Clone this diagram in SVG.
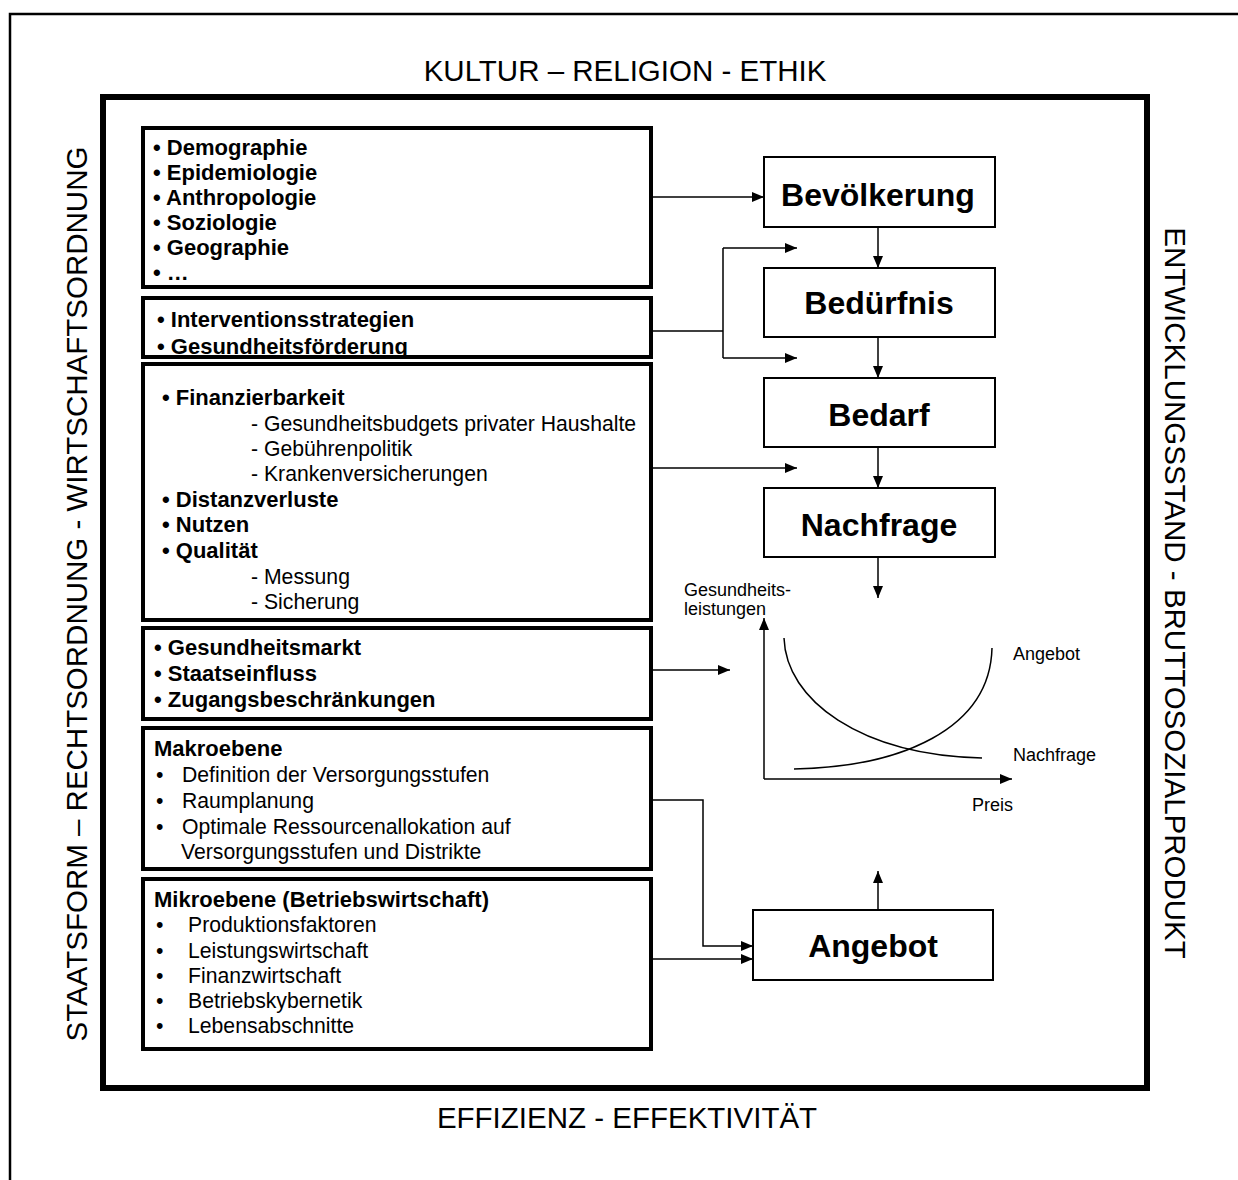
<svg xmlns="http://www.w3.org/2000/svg" width="1238" height="1180" viewBox="0 0 1238 1180">
<defs>
<marker id="ah" markerUnits="userSpaceOnUse" markerWidth="14" markerHeight="12" refX="12" refY="5" orient="auto">
<path d="M0,0 L12,5 L0,10 Z" fill="#000"/>
</marker>
<style>
text{font-family:"Liberation Sans",Arial,sans-serif;fill:#000}
.frame{fill:#fff;stroke:#000;stroke-width:6}
.lbox{fill:#fff;stroke:#000;stroke-width:4}
.nbox{fill:#fff;stroke:#000;stroke-width:2}
.b{font-weight:bold;font-size:22px}
.r{font-size:21.2px}
.big{font-weight:bold;font-size:32px;text-anchor:middle}
.ctx{font-size:29.5px;text-anchor:middle}
.sm{font-size:18px}
.con{fill:none;stroke:#000;stroke-width:1.5}
.arr{marker-end:url(#ah)}
</style>
</defs>
<rect width="1238" height="1180" fill="#fff"/>
<path d="M10,1182 V14 H1240" fill="none" stroke="#000" stroke-width="2.5"/>
<rect class="frame" x="103" y="97" width="1044" height="991"/>
<text class="ctx" x="625" y="81">KULTUR – RELIGION - ETHIK</text>
<text class="ctx" x="627" y="1128">EFFIZIENZ - EFFEKTIVITÄT</text>
<text class="ctx" transform="translate(87,594) rotate(-90)">STAATSFORM – RECHTSORDNUNG - WIRTSCHAFTSORDNUNG</text>
<text class="ctx" transform="translate(1165,593) rotate(90)">ENTWICKLUNGSSTAND - BRUTTOSOZIALPRODUKT</text>

<g id="box-disziplinen">
<rect class="lbox" x="143" y="128" width="508" height="159"/>
<text class="b" x="153" y="155">• Demographie</text>
<text class="b" x="153" y="180">• Epidemiologie</text>
<text class="b" x="153" y="205">• Anthropologie</text>
<text class="b" x="153" y="230">• Soziologie</text>
<text class="b" x="153" y="255">• Geographie</text>
<text class="b" x="153" y="280">• …</text>
</g>
<g id="box-intervention">
<rect class="lbox" x="143" y="298" width="508" height="59"/>
<text class="b" x="157" y="327">• Interventionsstrategien</text>
<text class="b" x="157" y="354">• Gesundheitsförderung</text>
</g>
<g id="box-finanz">
<rect class="lbox" x="143" y="364" width="508" height="256"/>
<text class="b" x="162" y="405">• Finanzierbarkeit</text>
<text class="r" x="251" y="431">- Gesundheitsbudgets privater Haushalte</text>
<text class="r" x="251" y="456">- Gebührenpolitik</text>
<text class="r" x="251" y="481">- Krankenversicherungen</text>
<text class="b" x="162" y="507">• Distanzverluste</text>
<text class="b" x="162" y="532">• Nutzen</text>
<text class="b" x="162" y="558">• Qualität</text>
<text class="r" x="251" y="584">- Messung</text>
<text class="r" x="251" y="609">- Sicherung</text>
</g>
<g id="box-markt">
<rect class="lbox" x="143" y="628" width="508" height="91"/>
<text class="b" x="154" y="655">• Gesundheitsmarkt</text>
<text class="b" x="154" y="681">• Staatseinfluss</text>
<text class="b" x="154" y="707">• Zugangsbeschränkungen</text>
</g>
<g id="box-makro">
<rect class="lbox" x="143" y="728" width="508" height="141"/>
<text class="b" x="154" y="756">Makroebene</text>
<text class="r" x="156" y="782">•</text><text class="r" x="182" y="782">Definition der Versorgungsstufen</text>
<text class="r" x="156" y="808">•</text><text class="r" x="182" y="808">Raumplanung</text>
<text class="r" x="156" y="834">•</text><text class="r" x="182" y="834">Optimale Ressourcenallokation auf</text>
<text class="r" x="181" y="859">Versorgungsstufen und Distrikte</text>
</g>
<g id="box-mikro">
<rect class="lbox" x="143" y="879" width="508" height="170"/>
<text class="b" x="154" y="907">Mikroebene (Betriebswirtschaft)</text>
<text class="r" x="156" y="932">•</text><text class="r" x="188" y="932">Produktionsfaktoren</text>
<text class="r" x="156" y="958">•</text><text class="r" x="188" y="958">Leistungswirtschaft</text>
<text class="r" x="156" y="983">•</text><text class="r" x="188" y="983">Finanzwirtschaft</text>
<text class="r" x="156" y="1008">•</text><text class="r" x="188" y="1008">Betriebskybernetik</text>
<text class="r" x="156" y="1033">•</text><text class="r" x="188" y="1033">Lebensabschnitte</text>
</g>

<g id="n-bevoelkerung"><rect class="nbox" x="764" y="157" width="231" height="70"/><text class="big" x="878" y="206">Bevölkerung</text></g>
<g id="n-beduerfnis"><rect class="nbox" x="764" y="268" width="231" height="69"/><text class="big" x="879" y="314">Bedürfnis</text></g>
<g id="n-bedarf"><rect class="nbox" x="764" y="378" width="231" height="69"/><text class="big" x="879" y="426">Bedarf</text></g>
<g id="n-nachfrage"><rect class="nbox" x="764" y="488" width="231" height="69"/><text class="big" x="879" y="536">Nachfrage</text></g>
<g id="n-angebot"><rect class="nbox" x="753" y="910" width="240" height="70"/><text class="big" x="873" y="957">Angebot</text></g>

<g id="chart">
<path class="con arr" d="M764,779 V618"/>
<path class="con arr" d="M764,779 H1012"/>
<path class="con" d="M784,638 C786,700 860,755 982,758"/>
<path class="con" d="M794,769 C900,767 990,730 992,648"/>
<text class="sm" x="684" y="596">Gesundheits-</text>
<text class="sm" x="684" y="615">leistungen</text>
<text class="sm" x="1013" y="660">Angebot</text>
<text class="sm" x="1013" y="761">Nachfrage</text>
<text class="sm" x="972" y="811">Preis</text>
</g>

<g id="connectors">
<path class="con arr" d="M651,197 H764"/>
<path class="con" d="M651,331 H723 M723,248 V358"/>
<path class="con arr" d="M723,248 H797"/>
<path class="con arr" d="M723,358 H797"/>
<path class="con arr" d="M651,468 H797"/>
<path class="con arr" d="M651,670 H730"/>
<path class="con arr" d="M651,800 H703 V946 H753"/>
<path class="con arr" d="M651,959 H753"/>
<path class="con arr" d="M878,227 V268"/>
<path class="con arr" d="M878,337 V378"/>
<path class="con arr" d="M878,447 V488"/>
<path class="con arr" d="M878,557 V598"/>
<path class="con arr" d="M878,910 V871"/>
</g>
</svg>
